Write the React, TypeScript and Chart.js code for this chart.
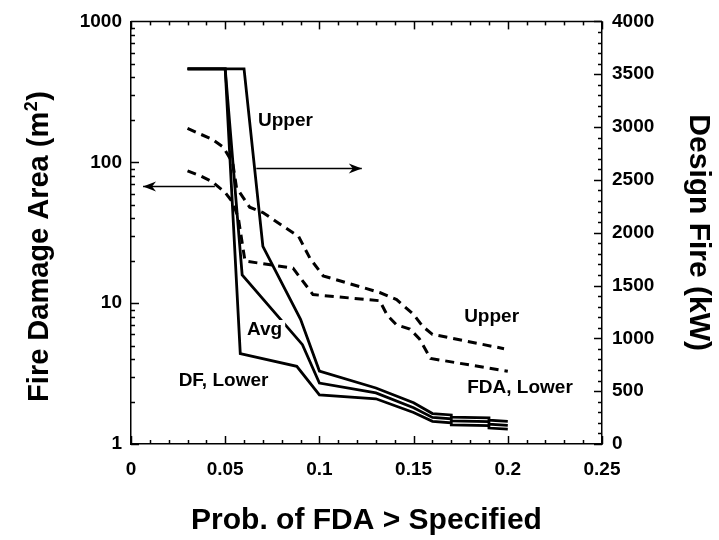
import React, { useEffect, useRef } from 'react';
import { Chart, registerables } from 'chart.js';

Chart.register(...registerables);

// ---------- data ----------
const xTickValues = [0, 0.05, 0.1, 0.15, 0.2, 0.25];
const leftTickValues = [1, 10, 100, 1000];
const rightTickValues = [0, 500, 1000, 1500, 2000, 2500, 3000, 3500, 4000];

// Design fire (kW) - right axis, solid lines
const dfUpperX = [0.03, 0.06, 0.07, 0.09, 0.1, 0.13, 0.15, 0.16, 0.17, 0.17, 0.19, 0.19, 0.2];
const dfUpperY = [3550, 3550, 1870, 1180, 690, 530, 390, 288, 275, 255, 248, 225, 214];
const dfAvgX = [0.03, 0.05, 0.059, 0.091, 0.1, 0.13, 0.15, 0.16, 0.17, 0.17, 0.19, 0.19, 0.2];
const dfAvgY = [3550, 3550, 1600, 940, 577, 484, 344, 251, 238, 218, 211, 188, 177];
const dfLowerX = [0.03, 0.05, 0.058, 0.088, 0.1, 0.13, 0.15, 0.16, 0.17, 0.17, 0.19, 0.19, 0.2];
const dfLowerY = [3550, 3550, 856, 735, 465, 428, 298, 214, 201, 181, 174, 151, 140];

// Fire damage area (m2) - left log axis, dashed lines
const fdaUpperX = [0.03, 0.037, 0.043, 0.049, 0.0525, 0.054, 0.056, 0.063, 0.07, 0.081, 0.089, 0.095, 0.102, 0.132, 0.141, 0.15, 0.155, 0.16, 0.198];
const fdaUpperY = [174, 158, 146, 128, 107, 99, 66, 48, 44, 35, 29.7, 20.8, 15.6, 11.9, 10.6, 8.3, 6.8, 6.0, 4.75];
const fdaLowerX = [0.03, 0.037, 0.043, 0.05, 0.054, 0.057, 0.0605, 0.086, 0.0966, 0.132, 0.136, 0.141, 0.148, 0.153, 0.159, 0.2];
const fdaLowerY = [87, 80, 73, 61, 52, 40, 19.9, 17.7, 11.5, 10.4, 8.2, 7.0, 6.55, 5.6, 4.05, 3.28];

// annotation labels (x in data units, y in kW on right axis)
const labelTexts = ['Upper', 'Avg', 'DF, Lower', 'Upper', 'FDA, Lower'];
const labelX = [0.082, 0.0709, 0.0491, 0.1914, 0.2065];
const labelKW = [3060, 1079, 595, 1200, 530];

// arrows
const arrowRight = { x0: 0.0665, x1: 0.1225, kw: 2614 }; // points to right axis
const arrowLeft = { x0: 0.0445, x1: 0.0064, area: 68.4 }; // points to left axis

const FONT = '"Liberation Sans", Arial, Helvetica, sans-serif';

function toPts(xs: number[], ys: number[]) {
  return xs.map((x, i) => ({ x, y: ys[i] }));
}

const framePlugin = {
  id: 'frameAndNotes',
  beforeDatasetsDraw(chart: any) {
    const { ctx, chartArea: a, scales } = chart;
    const sx = scales.x, yl = scales.y, yr = scales.y2;
    ctx.save();
    ctx.strokeStyle = '#000';
    ctx.lineWidth = 1.5;
    const line = (x1: number, y1: number, x2: number, y2: number) => {
      ctx.beginPath();
      ctx.moveTo(x1, y1);
      ctx.lineTo(x2, y2);
      ctx.stroke();
    };
    // top border
    line(a.left, a.top, a.right, a.top);
    // x ticks (bottom and top), inward
    for (let i = 0; i <= 25; i++) {
      const px = Math.round(sx.getPixelForValue(i / 100)) + 0.5;
      const len = i % 5 === 0 ? 8 : 4;
      line(px, a.bottom, px, a.bottom - len);
      line(px, a.top, px, a.top + len);
    }
    // left log ticks
    for (const d of [1, 10, 100]) {
      for (let m = 1; m <= 9; m++) {
        const v = d * m;
        const py = Math.round(yl.getPixelForValue(v)) + 0.5;
        const len = m === 1 ? 8 : 4;
        line(a.left, py, a.left + len, py);
      }
    }
    // right ticks
    for (let v = 0; v <= 4000; v += 100) {
      const py = Math.round(yr.getPixelForValue(v)) + 0.5;
      const len = v % 500 === 0 ? 8 : 4;
      line(a.right, py, a.right - len, py);
    }
    ctx.restore();
  },
  afterDatasetsDraw(chart: any) {
    const { ctx, scales } = chart;
    const sx = scales.x, yl = scales.y, yr = scales.y2;
    ctx.save();
    // labels
    ctx.font = `bold 19px ${FONT}`;
    ctx.textAlign = 'center';
    ctx.textBaseline = 'middle';
    labelTexts.forEach((t, i) => {
      const px = sx.getPixelForValue(labelX[i]);
      const py = yr.getPixelForValue(labelKW[i]);
      if (t === 'Avg') {
        const w = ctx.measureText(t).width;
        ctx.fillStyle = '#fff';
        ctx.fillRect(px - w / 2 - 3, py - 10, w + 6, 20);
      }
      ctx.fillStyle = '#000';
      ctx.fillText(t, px, py);
    });
    // arrows
    const arrow = (x0: number, y0: number, x1: number, y1: number) => {
      ctx.strokeStyle = '#000';
      ctx.fillStyle = '#000';
      ctx.lineWidth = 1.5;
      ctx.beginPath();
      ctx.moveTo(x0, y0);
      ctx.lineTo(x1, y1);
      ctx.stroke();
      const dir = Math.sign(x1 - x0);
      ctx.beginPath();
      ctx.moveTo(x1, y1);
      ctx.lineTo(x1 - dir * 13, y1 - 5);
      ctx.lineTo(x1 - dir * 9, y1);
      ctx.lineTo(x1 - dir * 13, y1 + 5);
      ctx.closePath();
      ctx.fill();
    };
    const ry = Math.round(yr.getPixelForValue(arrowRight.kw)) + 0.5;
    arrow(sx.getPixelForValue(arrowRight.x0), ry, sx.getPixelForValue(arrowRight.x1), ry);
    const ly = Math.round(yl.getPixelForValue(arrowLeft.area)) + 0.5;
    arrow(sx.getPixelForValue(arrowLeft.x0), ly, sx.getPixelForValue(arrowLeft.x1), ly);

    // left axis title with superscript
    ctx.translate(48, 246.5);
    ctx.rotate(-Math.PI / 2);
    ctx.fillStyle = '#000';
    ctx.textAlign = 'left';
    ctx.textBaseline = 'alphabetic';
    const main = 'Fire Damage Area (m';
    const big = `bold 29px ${FONT}`;
    const small = `bold 18px ${FONT}`;
    ctx.font = big;
    const w1 = ctx.measureText(main).width;
    const w3 = ctx.measureText(')').width;
    ctx.font = small;
    const w2 = ctx.measureText('2').width;
    const total = w1 + w2 + w3 + 1;
    let cx = -total / 2;
    ctx.font = big;
    ctx.fillText(main, cx, 0);
    cx += w1 + 0.5;
    ctx.font = small;
    ctx.fillText('2', cx, -11);
    cx += w2 + 0.5;
    ctx.font = big;
    ctx.fillText(')', cx, 0);
    ctx.restore();
  },
};

export default function App() {
  const ref = useRef<HTMLCanvasElement | null>(null);
  useEffect(() => {
    if (!ref.current) return;
    const tickFont = { family: FONT, size: 19, weight: 'bold' as const };
    const titleFont = { family: FONT, size: 30, weight: 'bold' as const };
    const solid = (pts: any[]) => ({
      data: pts,
      yAxisID: 'y2',
      borderColor: '#000',
      borderWidth: 2.8,
      pointRadius: 0,
      fill: false,
      tension: 0,
    });
    const dashed = (pts: any[]) => ({
      data: pts,
      yAxisID: 'y',
      borderColor: '#000',
      borderWidth: 3,
      borderDash: [9, 6],
      pointRadius: 0,
      fill: false,
      tension: 0,
    });
    const chart = new Chart(ref.current, {
      type: 'line',
      data: {
        datasets: [
          solid(toPts(dfUpperX, dfUpperY)),
          solid(toPts(dfAvgX, dfAvgY)),
          solid(toPts(dfLowerX, dfLowerY)),
          dashed(toPts(fdaUpperX, fdaUpperY)),
          dashed(toPts(fdaLowerX, fdaLowerY)),
        ] as any,
      },
      options: {
        responsive: false,
        animation: false,
        devicePixelRatio: 1,
        layout: { padding: { top: 14, left: 0, right: 0, bottom: 0 } },
        plugins: { legend: { display: false }, tooltip: { enabled: false } },
        scales: {
          x: {
            type: 'linear',
            min: 0,
            max: 0.25,
            afterFit: (s: any) => { s.height = 96; },
            afterBuildTicks: (s: any) => { s.ticks = xTickValues.map((v) => ({ value: v })); },
            ticks: {
              font: tickFont,
              color: '#000',
              padding: 14,
              maxRotation: 0,
              autoSkip: false,
              callback: (v: any) => String(Number(Number(v).toFixed(2))),
            },
            grid: { display: true, drawOnChartArea: false, drawTicks: false },
            border: { display: true, color: '#000', width: 1.5 },
            title: {
              display: true,
              text: 'Prob. of FDA > Specified',
              font: titleFont,
              color: '#000',
              padding: { top: 0, bottom: 1 },
            },
          },
          y: {
            type: 'logarithmic',
            position: 'left',
            min: 1,
            max: 1000,
            afterFit: (s: any) => { s.width = 131; },
            afterBuildTicks: (s: any) => { s.ticks = leftTickValues.map((v) => ({ value: v })); },
            ticks: {
              font: tickFont,
              color: '#000',
              padding: 9,
              autoSkip: false,
              callback: (v: any) => String(v),
            },
            grid: { display: true, drawOnChartArea: false, drawTicks: false },
            border: { display: true, color: '#000', width: 1.5 },
          },
          y2: {
            type: 'linear',
            position: 'right',
            min: 0,
            max: 4000,
            afterFit: (s: any) => { s.width = 117; },
            afterBuildTicks: (s: any) => { s.ticks = rightTickValues.map((v) => ({ value: v })); },
            ticks: {
              font: tickFont,
              color: '#000',
              padding: 10,
              autoSkip: false,
              callback: (v: any) => String(v),
            },
            grid: { display: true, drawOnChartArea: false, drawTicks: false },
            border: { display: true, color: '#000', width: 1.5 },
            title: {
              display: true,
              text: 'Design Fire (kW)',
              font: titleFont,
              color: '#000',
              padding: { top: 3, bottom: 0 },
            },
          },
        },
      },
      plugins: [framePlugin],
    });
    return () => chart.destroy();
  }, []);
  return (
    <div style={{ position: 'fixed', left: 0, top: 0, width: 719, height: 540, background: '#fff' }}>
      <canvas ref={ref} width={719} height={540} style={{ display: 'block' }} />
    </div>
  );
}
